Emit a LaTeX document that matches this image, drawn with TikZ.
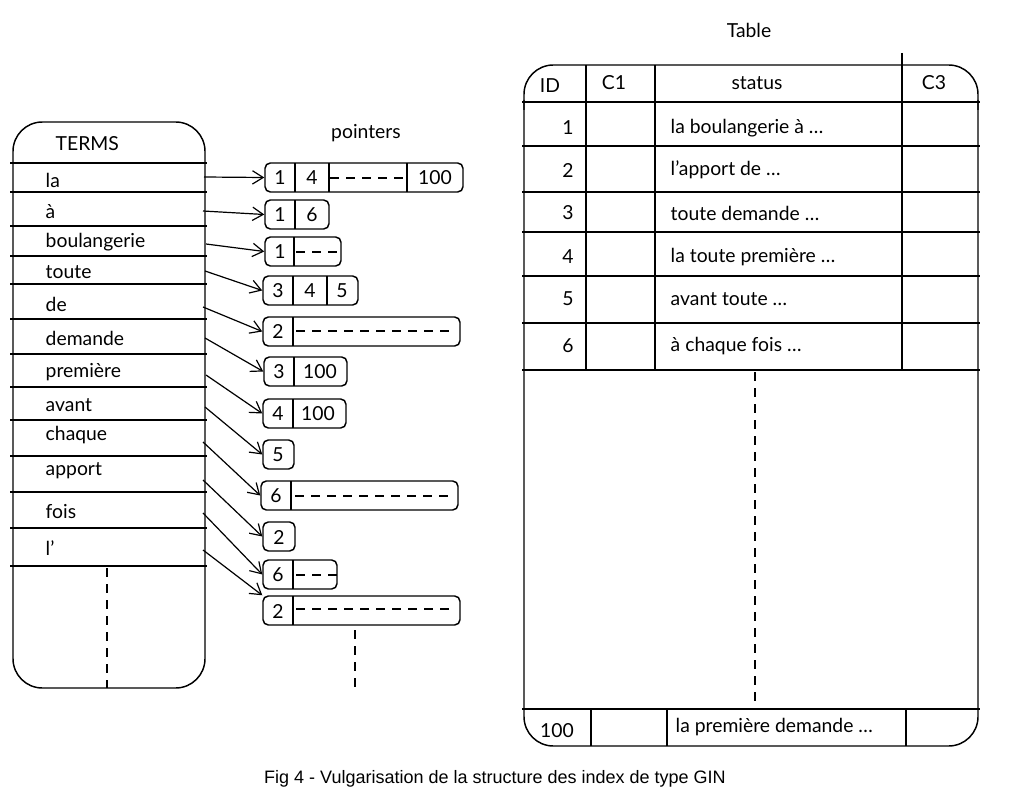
\documentclass[tikz,border=0pt]{standalone}
\usepackage{fontspec}
\setmainfont{Lato}
\newfontfamily\capfont{Liberation Sans}
\usetikzlibrary{fit,arrows.meta}
\begin{document}
\begin{tikzpicture}[x=0.75pt,y=-0.75pt,line width=1.1pt,
  pbox/.style={draw,rounded corners=4pt,inner sep=0pt},
  hand/.style={font=\fontsize{14.5}{16}\selectfont,inner sep=0pt},
  ptr/.style={-{Straight Barb[length=8pt,width=10pt]},line width=0.9pt},
  dsh/.style={dash pattern=on 7pt off 5pt}]
\useasboundingbox (0,0) rectangle (1024,806);
% TERMS
\draw[rounded corners=22pt] (13,163) -- (13,122) -- (205,122) -- (205,163);
\draw[rounded corners=22pt] (13,163) -- (13,688) -- (205,688) -- (205,163);
\foreach \y in {163,192,226,256,284,319,354,387,420,456,492,528,566}
  \draw (10,\y) -- (207,\y);
\node[hand,anchor=west] (terms) at (55,144) {TERMS};
\draw[dsh] (107,568) -- (107,688);
\foreach \n/\t/\y in {la/la/180,a/à/212,b/boulangerie/242,t/toute/272,de/de/304,dem/demande/338,p/première/372,av/avant/405,ch/chaque/435,ap/apport/471,f/fois/512,l/l'/548}
  \node[hand,anchor=west] (t\n) at (45,\y) {\t};
% pointers
\node[hand] (plabel) at (366,133) {pointers};
\node[pbox,fit={(265,163)(463,192)}] (p1) {};
\draw (295,163)--(295,192) (329,163)--(329,192) (407,163)--(407,192);
\draw[dsh] (330,178)--(404,178);
\node[hand] at (280,178) {1}; \node[hand] at (312,178) {4}; \node[hand] at (435,178) {100};
\node[pbox,fit={(265,200)(329,229)}] (p2) {};
\draw (295,200)--(295,229);
\node[hand] at (280,215) {1}; \node[hand] at (312,215) {6};
\node[pbox,fit={(265,237)(341,266)}] (p3) {};
\draw (294,237)--(294,266); \draw[dsh] (296,252)--(341,252);
\node[hand] at (280,252) {1};
\node[pbox,fit={(263,276)(358,305)}] (p4) {};
\draw (293,276)--(293,305) (327,276)--(327,305);
\node[hand] at (278,291) {3}; \node[hand] at (310,291) {4}; \node[hand] at (342,291) {5};
\node[pbox,fit={(263,317)(460,346)}] (p5) {};
\draw (293,317)--(293,346); \draw[dsh] (296,331)--(455,331);
\node[hand] at (278,331) {2};
\node[pbox,fit={(264,357)(347,386)}] (p6) {};
\draw (294,357)--(294,386);
\node[hand] at (279,372) {3}; \node[hand] at (320,372) {100};
\node[pbox,fit={(263,399)(346,428)}] (p7) {};
\draw (293,399)--(293,428);
\node[hand] at (278,414) {4}; \node[hand] at (318,414) {100};
\node[pbox,fit={(263,440)(294,469)}] (p8) {};
\node[hand] at (278,455) {5};
\node[pbox,fit={(261,481)(458,510)}] (p9) {};
\draw (291,481)--(291,510); \draw[dsh] (295,496)--(453,496);
\node[hand] at (276,496) {6};
\node[pbox,fit={(263,522)(295,551)}] (p10) {};
\node[hand] at (279,537) {2};
\node[pbox,fit={(263,560)(337,589)}] (p11) {};
\draw (293,560)--(293,589); \draw[dsh] (296,575)--(337,575);
\node[hand] at (278,575) {6};
\node[pbox,fit={(263,596)(460,625)}] (p12) {};
\draw (293,596)--(293,625); \draw[dsh] (296,609)--(455,609);
\node[hand] at (278,611) {2};
\draw[dsh] (355,630) -- (355,690);
% arrows
\coordinate (s1) at (204,177); \coordinate (s2) at (203,211);
\coordinate (s3) at (206,244); \coordinate (s4) at (205,271);
\coordinate (s5) at (203,307); \coordinate (s6) at (205,338);
\coordinate (s7) at (206,375); \coordinate (s8) at (205,407);
\coordinate (s9) at (203,442); \coordinate (s10) at (203,480);
\coordinate (s11) at (203,513); \coordinate (s12) at (203,550);
\draw[ptr] (s1) -- (p1.west);
\draw[ptr] (s2) -- (p2.west);
\draw[ptr] (s3) -- (p3.west);
\draw[ptr] (s4) -- (p4.west);
\draw[ptr] (s5) -- (p5.west);
\draw[ptr] (s6) -- (p6.west);
\draw[ptr] (s7) -- (p7.west);
\draw[ptr] (s8) -- (p8.west);
\draw[ptr] (s9) -- (p9.west);
\draw[ptr] (s10) -- (p10.west);
\draw[ptr] (s11) -- (p11.west);
\draw[ptr] (s12) -- (p12.north west);
% Table
\node[hand] (tlabel) at (749,30) {Table};
\draw[rounded corners=22pt] (524,110) -- (524,65) -- (978,65) -- (978,110);
\draw[rounded corners=22pt] (524,100) -- (524,746) -- (978,746) -- (978,100);
\foreach \y in {102,146,192,232,276,323,370,709} \draw (522,\y) -- (980,\y);
\draw (586,65)--(586,370) (655,65)--(655,370) (902,53)--(902,370);
\draw (591,709)--(591,746) (667,709)--(667,746) (906,709)--(906,746);
\draw[dsh] (755,372) -- (755,709);
\node[hand] at (550,86) {ID}; \node[hand] at (614,83) {C1};
\node[hand] at (757,83) {status}; \node[hand] at (934,83) {C3};
\foreach \i/\y/\t in {1/128/la boulangerie à \ldots,2/170/l'apport de \ldots,3/213/toute demande \ldots,4/257/la toute première \ldots,5/299/avant toute \ldots,6/346/à chaque fois \ldots}{
  \node[hand] at (568,\y) {\i};
  \node[hand,anchor=west] at (670,\y) {\t};}
\node[hand] at (557,731) {100};
\node[hand,anchor=west] at (675,727) {la première demande \ldots};
\node[font=\capfont\fontsize{13.5}{15}\selectfont] (cap) at (495,779) {Fig 4 - Vulgarisation de la structure des index de type GIN};
\end{tikzpicture}
\end{document}
